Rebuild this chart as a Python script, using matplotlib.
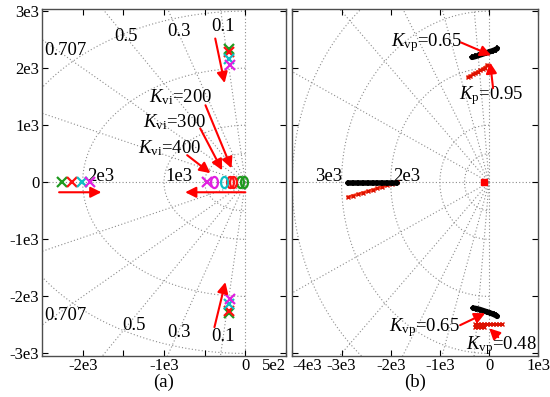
import numpy as np
import matplotlib
matplotlib.use('Agg')
import matplotlib.pyplot as plt
from matplotlib.path import Path

plt.rcParams['font.family'] = ['Liberation Serif', 'DejaVu Serif']
plt.rcParams['mathtext.fontset'] = 'custom'
plt.rcParams['mathtext.rm'] = 'Liberation Serif'
plt.rcParams['mathtext.it'] = 'Liberation Serif:italic'

# ---- grid (sgrid) settings ----
zetas = [0.1, 0.3, 0.5, 0.707, 0.9]
radii = [500, 1000, 2000, 3000, 4000]

# ---- panel (a) data ----
a_colors = ['#1f9a1f', '#ff1010', '#10bfc4', '#e020e0']   # green, red, cyan, magenta
a_top_x = [-195, -195, -200, -190]
a_top_y = [2340, 2290, 2160, 2060]
a_bot_x = [-195, -195, -200, -190]
a_bot_y = [-2300, -2250, -2130, -2050]
a_left_x = [-2250, -2130, -2005, -1905]
a_left_y = [0, 0, 0, 0]
a_o_x = [-60, -20, -185, -150, -265, -390]
a_o_c = ['#1f9a1f', '#1f9a1f', '#ff1010', '#ff1010', '#10bfc4', '#e020e0']
a_mx = [-470]

a_ticks_x = [-2000, -1500, -1000, -500, 0, 500]
a_ticklabels_x = ['-2e3', '', '-1e3', '', '0', '5e2']
y_ticks = [-3000, -2000, -1000, 0, 1000, 2000, 3000]
y_ticklabels = ['-3e3', '-2e3', '-1e3', '0', '1e3', '2e3', '3e3']

# arrows (start, end)
a_arrows = [((-370, 2520), (-255, 1740)),
            ((-380, -2540), (-245, -1750)),
            ((-2290, -175), (-1770, -175)),
            ((0, -175), (-740, -175)),
            ((-490, 1350), (-170, 245)),
            ((-555, 945), (-285, 210)),
            ((-715, 475), (-430, 160))]
a_kvi = ['200', '300', '400']
a_kvi_pos = [(-405, 1490), (-480, 1060), (-540, 590)]

a_zeta_lbl = ['0.707', '0.5', '0.3', '0.1']
a_zeta_top = [(-2207, 2312), (-1470, 2548), (-818, 2644), (-271, 2732)]
a_zeta_bot = [(-2207, -2338), (-1371, -2504), (-818, -2636), (-271, -2706)]
a_wn_lbl = ['2e3', '1e3']
a_wn_pos = [(-1777, 105), (-818, 105)]

# ---- panel (b) data ----
b_blk_up_x = [-345, -280, -210, -140, -70, 0, 70, 130, 165]
b_blk_up_y = [2190, 2205, 2225, 2245, 2265, 2285, 2305, 2325, 2345]
b_red_up_x = [-430, -380, -330, -280, -230, -180, -130, -90, -40]
b_red_up_y = [1840, 1865, 1890, 1915, 1940, 1962, 1985, 2010, 2050]
b_blk_lo_x = [-325, -260, -190, -120, -50, 20, 90, 140, 165]
b_blk_lo_y = [-2205, -2215, -2230, -2250, -2270, -2290, -2315, -2335, -2350]
b_red_lo_x = [-285, -220, -160, -100, -40, 20, 80, 140, 200, 260]
b_red_lo_y = [-2490, -2490, -2490, -2490, -2490, -2490, -2490, -2490, -2490, -2490]
b_red_lo2_x = [-285, -220, -160, -100]
b_red_lo2_y = [-2545, -2545, -2545, -2545]
b_blk_re_x = [-2870, -2770, -2670, -2570, -2470, -2370, -2270, -2170, -2070, -1970, -1870]
b_blk_re_y = [-15, -15, -15, -15, -15, -15, -15, -15, -15, -15, -15]
b_red_re_x = [-2870, -2770, -2670, -2570, -2470, -2370, -2270, -2170, -2070, -1970, -1870]
b_red_re_y = [-260, -235, -210, -185, -160, -135, -105, -80, -50, -25, 0]
b_sq = (-100, 0)

b_ticks_x = [-4000, -3000, -2000, -1000, 0, 1000]
b_ticklabels_x = ['-4e3', '-3e3', '-2e3', '-1e3', '0', '1e3']

b_arrows = [((-570, 2450), (40, 2225)),
            ((80, 1650), (20, 2100)),
            ((-590, -2505), (-80, -2295)),
            ((185, -2715), (0, -2560))]
b_texts = [(r'$K_{\mathrm{vp}}$=0.65', (-1280, 2452)),
           (r'$K_{\mathrm{p}}$=0.95', (45, 1524)),
           (r'$K_{\mathrm{vp}}$=0.65', (-1321, -2540)),
           (r'$K_{\mathrm{vp}}$=0.48', (244, -2855))]
b_wn_lbl = ['3e3', '2e3']
b_wn_pos = [(-3262, 105), (-1677, 105)]

# tall ellipse marker like the reference 'o'
t = np.linspace(0, 2 * np.pi, 40)
oval = Path(np.column_stack([0.62 * np.cos(t), np.sin(t)]))

grid_kw = dict(color='0.55', lw=0.8, ls=(0, (1, 2)), zorder=1)
arrow_kw = dict(arrowstyle='-|>', color='red', lw=1.5, mutation_scale=16,
                shrinkA=0, shrinkB=0)
FS = 13.5


def sgrid(ax):
    R = 8000
    for z in zetas:
        th = np.arccos(z)
        ax.plot([0, -R * np.cos(th)], [0, R * np.sin(th)], **grid_kw)
        ax.plot([0, -R * np.cos(th)], [0, -R * np.sin(th)], **grid_kw)
    tt = np.linspace(np.pi / 2, 3 * np.pi / 2, 300)
    for r in radii:
        ax.plot(r * np.cos(tt), r * np.sin(tt), **grid_kw)
    ax.axhline(0, **grid_kw)
    ax.axvline(0, **grid_kw)


def style(ax):
    ax.set_ylim(-3040, 3035)
    ax.set_yticks(y_ticks)
    ax.tick_params(direction='in', top=True, right=True, length=4, width=0.8,
                   labelsize=12, pad=2)
    for s in ax.spines.values():
        s.set_color('0.3')
        s.set_linewidth(1.0)


fig = plt.figure(figsize=(5.5, 3.97), dpi=100)
axA = fig.add_axes([0.0764, 0.104, 0.4436, 0.873])
axB = fig.add_axes([0.5315, 0.104, 0.4473, 0.873])

# ---- (a) ----
sgrid(axA)
axA.set_xlim(-2500, 500)
style(axA)
axA.set_xticks(a_ticks_x)
axA.set_xticklabels(a_ticklabels_x)
axA.get_xticklabels()[-1].set_ha('right')
axA.set_yticklabels(y_ticklabels)

for lbl, p in zip(a_zeta_lbl, a_zeta_top):
    axA.text(p[0], p[1], lbl, fontsize=FS, ha='center', va='center', zorder=2)
for lbl, p in zip(a_zeta_lbl, a_zeta_bot):
    axA.text(p[0], p[1], lbl, fontsize=FS, ha='center', va='center', zorder=2)
for lbl, p in zip(a_wn_lbl, a_wn_pos):
    axA.text(p[0], p[1], lbl, fontsize=FS, ha='center', va='center', zorder=2)

for i, c in enumerate(a_colors):
    for xs, ys in ((a_top_x, a_top_y), (a_bot_x, a_bot_y), (a_left_x, a_left_y)):
        axA.plot(xs[i], ys[i], 'x', color=c, ms=7, mew=1.6, zorder=4)
for x, c in zip(a_o_x, a_o_c):
    axA.plot(x, 0, marker=oval, color=c, mfc='none', ms=8, mew=1.6, ls='none', zorder=4)
axA.plot(a_mx, [0], 'x', color='#e020e0', ms=7, mew=1.6, zorder=4)

for s, e in a_arrows:
    axA.annotate('', xy=e, xytext=s, arrowprops=arrow_kw, zorder=5)
for k, p in zip(a_kvi, a_kvi_pos):
    axA.text(p[0], p[1], r'$K_{\mathrm{vi}}$=' + k, fontsize=FS, ha='right',
             va='center', zorder=3)

# ---- (b) ----
sgrid(axB)
axB.set_xlim(-4000, 1000)
style(axB)
axB.set_xticks(b_ticks_x)
axB.set_xticklabels(b_ticklabels_x)
axB.get_xticklabels()[0].set_ha('left')
axB.set_yticklabels([])

for lbl, p in zip(b_wn_lbl, b_wn_pos):
    axB.text(p[0], p[1], lbl, fontsize=FS, ha='center', va='center', zorder=2)

red_c = '#ff4422'
for xs, ys in ((b_red_up_x, b_red_up_y), (b_red_lo_x, b_red_lo_y),
               (b_red_lo2_x, b_red_lo2_y), (b_red_re_x, b_red_re_y)):
    axB.plot(xs, ys, color=red_c, lw=2.2, zorder=3)
    axB.plot(xs, ys, 'x', color='#dd1100', ms=3.5, mew=1.0, zorder=3)
for xs, ys in ((b_blk_up_x, b_blk_up_y), (b_blk_lo_x, b_blk_lo_y),
               (b_blk_re_x, b_blk_re_y)):
    axB.plot(xs, ys, color='black', lw=4, zorder=4, solid_capstyle='round')
    axB.plot(xs, ys, '+', color='black', ms=5, mew=1.2, zorder=4)
axB.plot(b_sq[0], b_sq[1], 's', color='red', ms=4.5, zorder=4)

for s, e in b_arrows:
    axB.annotate('', xy=e, xytext=s, arrowprops=arrow_kw, zorder=5)
for txt, p in b_texts:
    axB.text(p[0], p[1], txt, fontsize=FS, ha='center', va='center', zorder=3)

fig.text(0.298, 0.038, '(a)', fontsize=FS, ha='center', va='center')
fig.text(0.755, 0.038, '(b)', fontsize=FS, ha='center', va='center')

fig.savefig('out.png', dpi=100)
